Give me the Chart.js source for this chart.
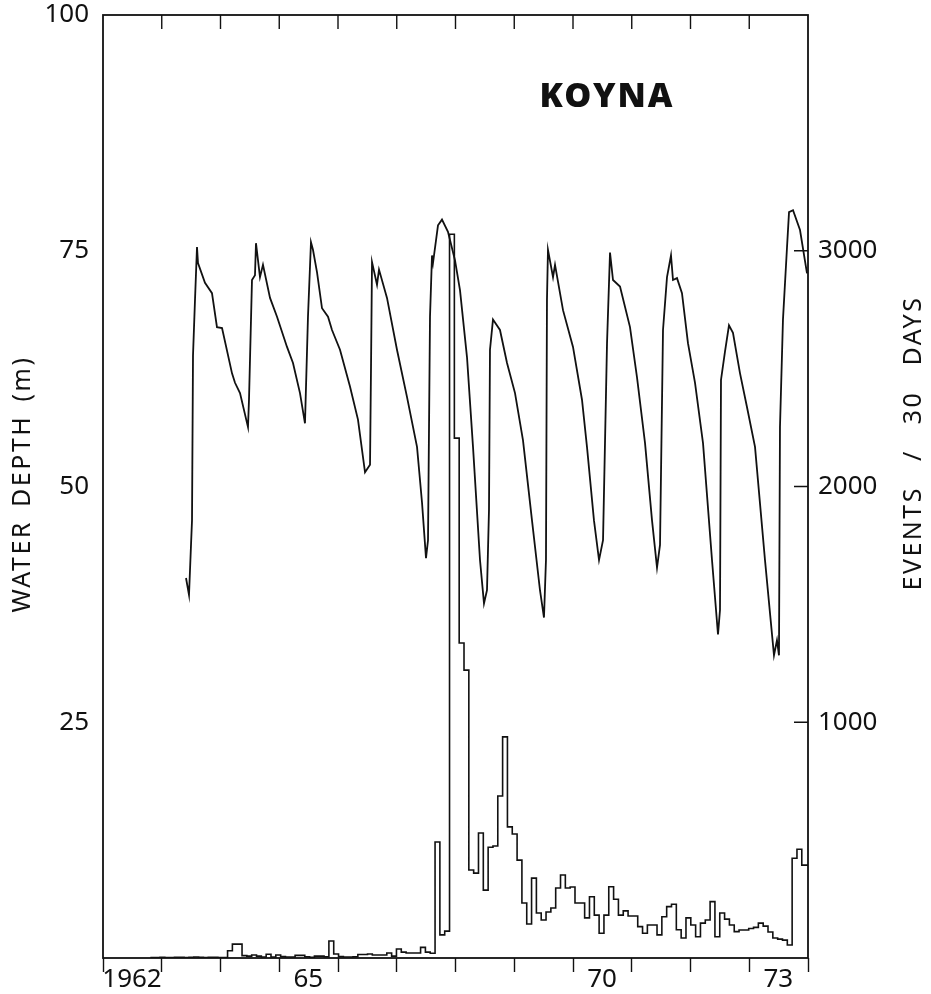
<!DOCTYPE html>
<html>
<head>
<meta charset="utf-8">
<script src="https://cdn.jsdelivr.net/npm/chart.js@4"></script>
<style>
  html, body { margin: 0; padding: 0; background: #fff; }
</style>
</head>
<body>
<canvas id="chart" width="931" height="994"></canvas>
<script>
// Water depth in Koyna reservoir (m)
const waterYear = [
  1963.413, 1963.464, 1963.498, 1963.515, 1963.532, 1963.566, 1963.600, 1963.617, 1963.736, 1963.855,
  1963.940, 1964.026, 1964.196, 1964.247, 1964.332, 1964.468, 1964.485, 1964.536, 1964.587, 1964.604,
  1964.672, 1964.723, 1964.843, 1964.962, 1965.132, 1965.234, 1965.353, 1965.438, 1965.489, 1965.540,
  1965.574, 1965.643, 1965.728, 1965.830, 1965.898, 1966.034, 1966.204, 1966.340, 1966.460, 1966.545,
  1966.562, 1966.579, 1966.664, 1966.698, 1966.834, 1967.004, 1967.174, 1967.345, 1967.430, 1967.498,
  1967.532, 1967.566, 1967.600, 1967.617, 1967.702, 1967.770, 1967.872, 1967.991, 1968.077, 1968.196,
  1968.298, 1968.417, 1968.485, 1968.536, 1968.570, 1968.587, 1968.638, 1968.757, 1968.877, 1969.013,
  1969.149, 1969.302, 1969.438, 1969.506, 1969.540, 1969.557, 1969.574, 1969.660, 1969.694, 1969.830,
  1970.000, 1970.153, 1970.238, 1970.357, 1970.443, 1970.511, 1970.579, 1970.630, 1970.681, 1970.800,
  1970.970, 1971.089, 1971.226, 1971.345, 1971.430, 1971.481, 1971.532, 1971.600, 1971.668, 1971.702,
  1971.770, 1971.855, 1971.957, 1972.077, 1972.213, 1972.366, 1972.468, 1972.502, 1972.519, 1972.587,
  1972.655, 1972.723, 1972.843, 1972.962, 1973.098, 1973.268, 1973.421, 1973.472, 1973.506, 1973.523,
  1973.574, 1973.643, 1973.677, 1973.745, 1973.864, 1973.983
];
const waterDepth = [
  40.3, 38.5, 43.8, 46.4, 63.9, 69.8, 75.4, 73.7, 71.6, 70.5,
  66.9, 66.8, 62.0, 61.0, 59.9, 56.3, 59.2, 71.9, 72.4, 75.8,
  72.2, 73.5, 70.0, 68.0, 64.8, 63.1, 59.9, 56.7, 68.0, 75.9,
  75.1, 72.7, 68.9, 68.0, 66.6, 64.5, 60.6, 57.1, 51.5, 52.3,
  62.7, 73.8, 71.4, 73.0, 70.0, 64.5, 59.5, 54.2, 48.3, 42.4,
  44.3, 68.0, 74.5, 73.7, 77.7, 78.3, 77.0, 74.0, 70.8, 63.7,
  54.2, 42.2, 37.6, 39.0, 47.5, 64.5, 67.7, 66.6, 63.1, 59.9,
  54.9, 46.4, 39.0, 36.1, 42.2, 69.8, 75.1, 72.2, 73.5, 68.7,
  64.8, 59.2, 54.2, 46.4, 42.2, 44.3, 65.2, 74.8, 71.9, 71.2,
  66.9, 61.6, 54.6, 46.4, 41.4, 43.8, 66.6, 72.2, 74.5, 71.9,
  72.1, 70.5, 65.2, 61.0, 54.6, 42.2, 34.3, 36.9, 61.3, 64.3,
  67.1, 66.3, 62.0, 58.4, 54.2, 42.2, 32.1, 33.7, 32.1, 56.3,
  67.7, 75.4, 79.1, 79.3, 77.2, 72.6
];

// Earthquake counts per 30-day bin
const binStart = 1962.806;
const binWidth = 30 / 365.25;
const events = [
  2, 2, 3, 2, 2, 3, 3, 2, 3, 4, 3, 2, 3, 3, 2, 2,
  31, 59, 59, 10, 8, 13, 8, 4, 16, 4, 13, 6, 4, 4, 11, 11, 5, 3, 8, 8,
  5, 72, 17, 6, 4, 4, 5, 15, 15, 17, 13, 13, 13, 21, 8, 38, 25, 21, 21, 21,
  45, 25, 20, 492, 98, 114,
  3070, 2205, 1336, 1221, 373, 360, 530, 288, 470, 475,
  687, 938, 556, 526, 415, 233, 144, 339, 191, 161,
  195, 212, 297, 352, 297, 301, 233, 233, 170, 260,
  182, 105, 182, 302, 249, 182, 200, 178, 178, 133,
  105, 140, 140, 98, 175, 218, 228, 120, 85, 170,
  140, 90, 148, 161, 239, 90, 191, 165, 140, 112,
  119, 119, 125, 130, 148, 135, 110, 85, 80, 76,
  55, 423, 461, 394, 394
];

const yearLabels = { 1962: '1962', 1965: '65', 1970: '70', 1973: '73' };
const depthTicks = [25, 50, 75, 100];
const eventTicks = [1000, 2000, 3000];

const ink = '#111';
Chart.defaults.font.family = "'Noto Sans', sans-serif";
Chart.defaults.color = ink;

const waterPoints = waterYear.map((x, i) => ({ x, y: waterDepth[i] }));
const histPoints = events.map((v, i) => ({ x: binStart + i * binWidth, y: v }));
histPoints.push({ x: binStart + events.length * binWidth, y: events[events.length - 1] });

// draw words spread out so the whole label spans a given length
function spreadWords(ctx, text, cx, cy, len, rotate) {
  ctx.save();
  ctx.translate(cx, cy);
  if (rotate) ctx.rotate(-Math.PI / 2);
  ctx.letterSpacing = '2.5px';
  ctx.textAlign = 'left';
  const words = text.split(' ');
  const widths = words.map(w => ctx.measureText(w).width);
  const total = widths.reduce((s, w) => s + w, 0);
  const gap = words.length > 1 ? (len - total) / (words.length - 1) : 0;
  let x = -len / 2;
  words.forEach((w, i) => {
    ctx.fillText(w, x, 0);
    x += widths[i] + gap;
  });
  ctx.restore();
}

const framePlugin = {
  id: 'frame',
  afterDraw(chart) {
    const { ctx, chartArea: a, scales } = chart;
    ctx.save();
    ctx.strokeStyle = ink;
    ctx.lineWidth = 1.8;
    ctx.strokeRect(a.left, a.top, a.right - a.left, a.bottom - a.top);

    // inward ticks on top and right
    ctx.lineWidth = 1.4;
    ctx.beginPath();
    scales.x.ticks.forEach(t => {
      if (t.value <= 1962 || t.value >= 1974) return;
      const px = scales.x.getPixelForValue(t.value);
      ctx.moveTo(px, a.top);
      ctx.lineTo(px, a.top + 14);
    });
    eventTicks.forEach(v => {
      const py = scales.y2.getPixelForValue(v);
      ctx.moveTo(a.right, py);
      ctx.lineTo(a.right - 14, py);
    });
    ctx.stroke();

    ctx.fillStyle = ink;
    ctx.textBaseline = 'middle';

    ctx.font = "900 34px 'Noto Sans', sans-serif";
    ctx.textAlign = 'center';
    ctx.letterSpacing = '2px';
    ctx.fillText('KOYNA', 607, 97);

    ctx.font = "25px 'Noto Sans', sans-serif";
    spreadWords(ctx, 'WATER DEPTH (m)', 23, 484, 257, true);
    spreadWords(ctx, 'EVENTS / 30 DAYS', 914, 443, 295, true);
    ctx.restore();
  }
};

new Chart(document.getElementById('chart'), {
  type: 'line',
  data: {
    datasets: [
      {
        label: 'Water depth',
        data: waterPoints,
        yAxisID: 'y',
        borderColor: ink,
        borderWidth: 1.8,
        pointRadius: 0,
        tension: 0,
        fill: false
      },
      {
        label: 'Events / 30 days',
        data: histPoints,
        yAxisID: 'y2',
        borderColor: ink,
        borderWidth: 1.6,
        pointRadius: 0,
        stepped: 'before',
        fill: false
      }
    ]
  },
  options: {
    responsive: false,
    animation: false,
    devicePixelRatio: 1,
    layout: { padding: { top: 15, left: 0, right: 0, bottom: 0 } },
    plugins: { legend: { display: false }, tooltip: { enabled: false } },
    scales: {
      x: {
        type: 'linear',
        position: 'bottom',
        min: 1962,
        max: 1974,
        ticks: {
          stepSize: 1,
          autoSkip: false,
          maxRotation: 0,
          labelOffset: 29,
          padding: -8,
          font: { size: 26 },
          callback: v => yearLabels[v] || ''
        },
        grid: { drawOnChartArea: false, tickLength: 14, tickColor: ink, tickWidth: 1.4 },
        border: { display: false },
        afterFit: s => { s.height = 36; s.paddingLeft = 0; s.paddingRight = 0; }
      },
      y: {
        position: 'left',
        min: 0,
        max: 100,
        afterBuildTicks: s => { s.ticks = depthTicks.map(v => ({ value: v })); },
        ticks: { padding: 14, font: { size: 26 } },
        grid: { drawOnChartArea: false, drawTicks: false },
        border: { display: false },
        afterFit: s => { s.width = 103; s.paddingTop = 0; s.paddingBottom = 0; }
      },
      y2: {
        position: 'right',
        min: 0,
        max: 4000,
        afterBuildTicks: s => { s.ticks = eventTicks.map(v => ({ value: v })); },
        ticks: { padding: 10, font: { size: 26 }, callback: v => String(v) },
        grid: { drawOnChartArea: false, drawTicks: false },
        border: { display: false },
        afterFit: s => { s.width = 123; s.paddingTop = 0; s.paddingBottom = 0; }
      }
    }
  },
  plugins: [framePlugin]
});
</script>
</body>
</html>
